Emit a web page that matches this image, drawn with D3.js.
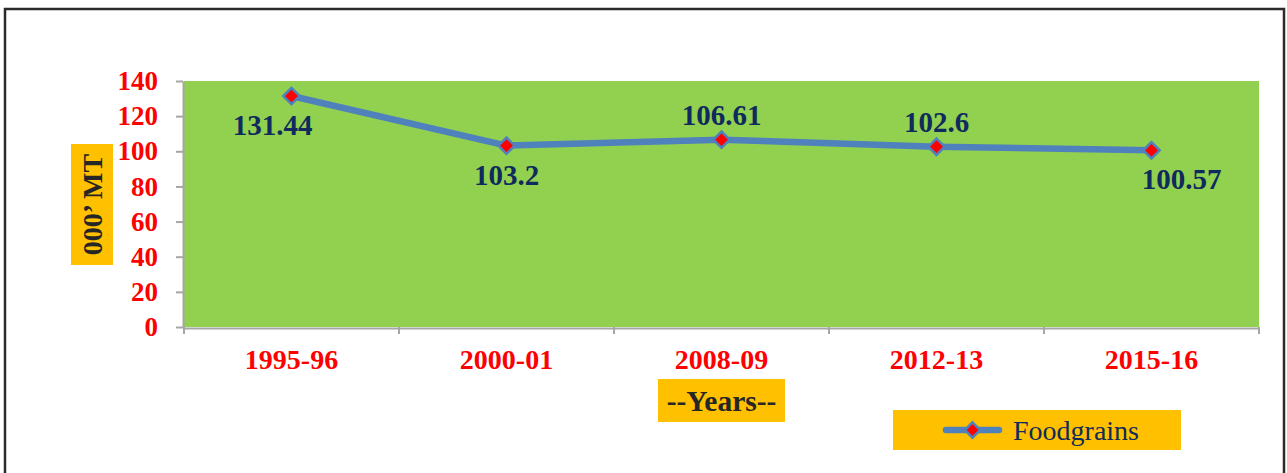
<!DOCTYPE html>
<html>
<head>
<meta charset="utf-8">
<script src="https://cdn.jsdelivr.net/npm/d3@7"></script>
<style>
  body { margin: 0; background: #fff; }
  svg { display: block; }
</style>
</head>
<body>
<script>
// data
var years = ["1995-96", "2000-01", "2008-09", "2012-13", "2015-16"];
var foodgrains = [131.44, 103.2, 106.61, 102.6, 100.57];
var yTicks = [0, 20, 40, 60, 80, 100, 120, 140];

// where each data label sits relative to its point
var labelSide = ["below", "below", "above", "above", "below"];
var labelDx = [-19, 0, 0, 0, 30];

var W = 1287, H = 473;
var plot = { left: 184, right: 1259, top: 81, bottom: 327 };
var serif = "Liberation Serif, Times New Roman, serif";

var svg = d3.select("body").append("svg")
    .attr("width", W)
    .attr("height", H);

// outer frame
svg.append("path")
    .attr("d", "M5,480 L5,9 L1284,9 L1284,480")
    .attr("fill", "none")
    .attr("stroke", "#2b2b2b")
    .attr("stroke-width", 2.5);

var x = d3.scaleBand().domain(years).range([plot.left, plot.right]);
var y = d3.scaleLinear().domain([0, 140]).range([plot.bottom, plot.top]);

// plot background
svg.append("rect")
    .attr("x", plot.left)
    .attr("y", plot.top)
    .attr("width", plot.right - plot.left)
    .attr("height", plot.bottom - plot.top)
    .attr("fill", "#92D050");

// y axis
var yAxis = svg.append("g")
    .attr("transform", "translate(" + (plot.left - 1) + ",0)")
    .call(d3.axisLeft(y).tickValues(yTicks).tickSize(7).tickSizeOuter(0).tickPadding(18));
yAxis.select(".domain").attr("stroke", "#a6a6a6").attr("stroke-width", 2);
yAxis.selectAll(".tick line").attr("stroke", "#a6a6a6").attr("stroke-width", 2);
yAxis.selectAll(".tick text")
    .attr("fill", "#ff0000")
    .attr("font-family", serif)
    .attr("font-weight", "bold")
    .attr("font-size", "27px");

// x axis
var xAxis = svg.append("g")
    .attr("transform", "translate(0," + (plot.bottom + 1) + ")")
    .call(d3.axisBottom(x).tickSize(0).tickPadding(21));
xAxis.select(".domain").attr("stroke", "#a6a6a6").attr("stroke-width", 2);
xAxis.selectAll(".tick text")
    .attr("fill", "#ff0000")
    .attr("font-family", serif)
    .attr("font-weight", "bold")
    .attr("font-size", "28px");

// category boundary ticks
var bounds = years.map(function(d) { return x(d); }).concat([plot.right]);
svg.selectAll(".xb")
    .data(bounds)
    .enter()
    .append("line")
    .attr("x1", function(d) { return d; })
    .attr("x2", function(d) { return d; })
    .attr("y1", plot.bottom)
    .attr("y2", plot.bottom + 7)
    .attr("stroke", "#a6a6a6")
    .attr("stroke-width", 2);

// y title
svg.append("rect")
    .attr("x", 71).attr("y", 144)
    .attr("width", 42).attr("height", 121)
    .attr("fill", "#FFC000");
svg.append("text")
    .attr("transform", "translate(102,204.5) rotate(-90)")
    .attr("text-anchor", "middle")
    .attr("font-family", serif)
    .attr("font-weight", "bold")
    .attr("font-size", "28px")
    .attr("fill", "#262626")
    .text("000\u2019 MT");

// x title
svg.append("rect")
    .attr("x", 658).attr("y", 379)
    .attr("width", 127).attr("height", 43)
    .attr("fill", "#FFC000");
svg.append("text")
    .attr("x", 721.5).attr("y", 411)
    .attr("text-anchor", "middle")
    .attr("font-family", serif)
    .attr("font-weight", "bold")
    .attr("font-size", "29.5px")
    .attr("fill", "#262626")
    .text("--Years--");

// line
var cx = function(d, i) { return x(years[i]) + x.bandwidth() / 2; };
var line = d3.line()
    .x(cx)
    .y(function(d) { return y(d); });

svg.append("path")
    .datum(foodgrains)
    .attr("d", line)
    .attr("fill", "none")
    .attr("stroke", "#4F81BD")
    .attr("stroke-width", 6.5)
    .attr("stroke-linejoin", "round");

var diamond = d3.symbol().type(d3.symbolDiamond2).size(170);
svg.selectAll(".pt")
    .data(foodgrains)
    .enter()
    .append("path")
    .attr("d", diamond)
    .attr("transform", function(d, i) {
        return "translate(" + cx(d, i) + "," + y(d) + ")";
    })
    .attr("fill", "#ff0000")
    .attr("stroke", "#4F81BD")
    .attr("stroke-width", 2.5);

// data labels
svg.selectAll(".lbl")
    .data(foodgrains)
    .enter()
    .append("text")
    .attr("x", function(d, i) { return cx(d, i) + labelDx[i]; })
    .attr("y", function(d, i) {
        return labelSide[i] === "above" ? y(d) - 15 : y(d) + 39;
    })
    .attr("text-anchor", "middle")
    .attr("font-family", serif)
    .attr("font-weight", "bold")
    .attr("font-size", "29px")
    .attr("fill", "#0F2A5C")
    .text(function(d) { return d; });

// legend
svg.append("rect")
    .attr("x", 893).attr("y", 410)
    .attr("width", 288).attr("height", 40)
    .attr("fill", "#FFC000");
svg.append("line")
    .attr("x1", 946).attr("x2", 999)
    .attr("y1", 430).attr("y2", 430)
    .attr("stroke", "#4F81BD")
    .attr("stroke-width", 6.5)
    .attr("stroke-linecap", "round");
svg.append("path")
    .attr("d", d3.symbol().type(d3.symbolDiamond2).size(150))
    .attr("transform", "translate(972.5,430)")
    .attr("fill", "#ff0000")
    .attr("stroke", "#4F81BD")
    .attr("stroke-width", 2.5);
svg.append("text")
    .attr("x", 1013).attr("y", 440)
    .attr("font-family", serif)
    .attr("font-size", "28px")
    .attr("fill", "#0F2A5C")
    .text("Foodgrains");
</script>
</body>
</html>
